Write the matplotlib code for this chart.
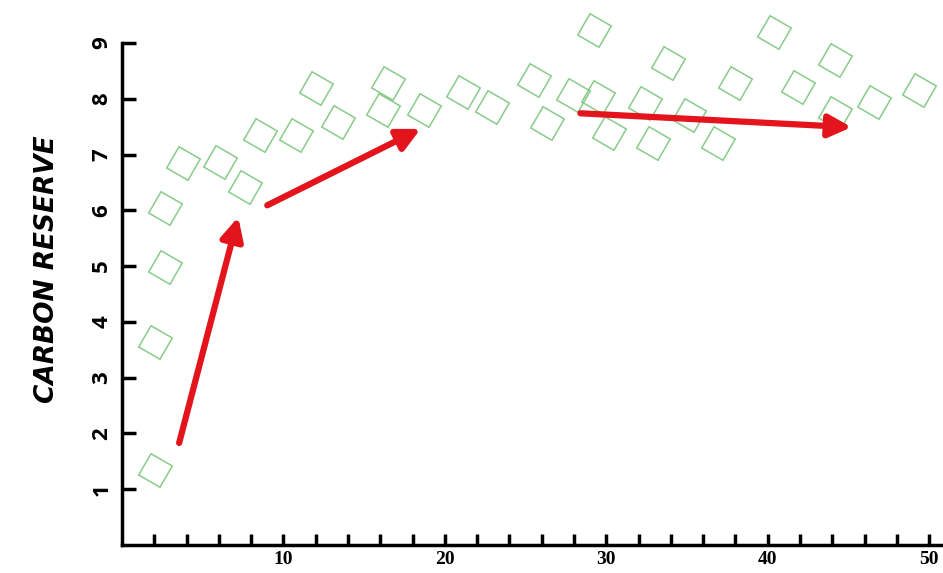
import matplotlib.pyplot as plt

# data
age = [2.05, 2.05, 2.67, 2.67, 3.8, 6.1, 7.65, 8.55, 10.75, 12.0, 13.4, 16.5,
       16.2, 18.7, 21.1, 22.9, 25.5, 26.3, 27.95, 29.25, 29.5, 30.2, 32.4, 32.9,
       33.85, 35.1, 36.95, 37.95, 40.4, 41.9, 44.2, 44.2, 46.6, 49.4]
carbon = [1.34, 3.64, 4.98, 6.04, 6.85, 6.86, 6.42, 7.35, 7.35, 8.19, 7.58, 8.28,
          7.8, 7.8, 8.12, 7.85, 8.33, 7.56, 8.06, 9.23, 8.03, 7.38, 7.92, 7.2,
          8.64, 7.71, 7.2, 8.28, 9.19, 8.21, 8.69, 7.74, 7.94, 8.15]

# trend arrows (start x, start y, end x, end y)
arrow_start = [(3.54, 1.83), (9.0, 6.09), (28.4, 7.74)]
arrow_end = [(7.2, 5.88), (18.5, 7.46), (45.2, 7.49)]

yticks = [1, 2, 3, 4, 5, 6, 7, 8, 9]
xticks = list(range(2, 51, 2))
xlabels = [str(t) if t % 10 == 0 else '' for t in xticks]

fig = plt.figure(figsize=(9.43, 5.73), dpi=100)
ax = fig.add_axes([122/943, 28/573, 820/943, 502/573])

ax.plot(age, carbon, linestyle='none', marker=(4, 0, 15), markersize=25,
        markerfacecolor='none', markeredgecolor='#74c274', markeredgewidth=1.1,
        alpha=0.85, clip_on=False)

for s, e in zip(arrow_start, arrow_end):
    ax.annotate('', xy=e, xytext=s,
                arrowprops=dict(arrowstyle='-|>', color='#e3141b', lw=4.5,
                                mutation_scale=34, shrinkA=0, shrinkB=0))

ax.set_xlim(0, 50.8)
ax.set_ylim(0, 9)
ax.spines['top'].set_visible(False)
ax.spines['right'].set_visible(False)
ax.spines['left'].set_linewidth(2.5)
ax.spines['bottom'].set_linewidth(2.5)

ax.set_yticks(yticks)
ax.set_yticklabels([str(t) for t in yticks], rotation=90, va='center',
                   fontsize=16, fontweight='bold', family='Open Sans')
ax.set_xticks(xticks)
ax.set_xticklabels(xlabels, fontsize=14, fontweight='bold', family='Liberation Serif')
ax.tick_params(axis='y', direction='in', length=10, width=2.5, pad=7)
ax.tick_params(axis='x', direction='in', length=8, width=2.5, pad=4)

ax.set_ylabel('CARBON RESERVE', fontsize=19, fontweight='bold', style='italic',
              family='DejaVu Sans')
ax.yaxis.set_label_coords(-0.075, 0.55)

fig.savefig('out.png', dpi=100)
